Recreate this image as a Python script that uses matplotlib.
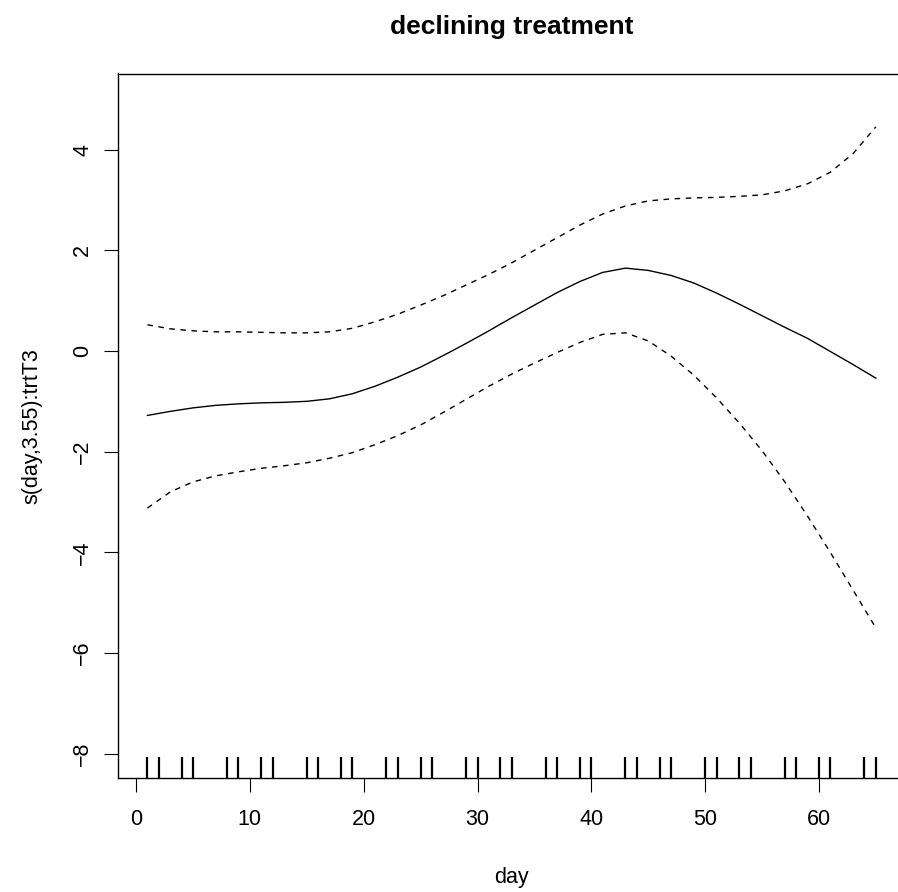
import matplotlib
matplotlib.use("Agg")
import matplotlib.pyplot as plt
import matplotlib.transforms as mtransforms

plt.rcParams['font.family'] = ['Liberation Sans', 'DejaVu Sans']

# Smooth term s(day) for the declining treatment, with +/- 2 SE band
day = [1, 3, 5, 7, 9, 11, 13, 15, 17, 19, 21, 23, 25, 27, 29, 31, 33,
       35, 37, 39, 41, 43, 45, 47, 49, 51, 53, 55, 57, 59, 61, 63, 65]
fit = [-1.28, -1.20, -1.13, -1.08, -1.05, -1.03, -1.02, -1.00, -0.95, -0.85,
       -0.70, -0.52, -0.32, -0.09, 0.15, 0.40, 0.66, 0.91, 1.16, 1.38, 1.56,
       1.645, 1.60, 1.50, 1.35, 1.15, 0.93, 0.70, 0.47, 0.25, -0.01, -0.27, -0.54]
upper = [0.52, 0.44, 0.40, 0.38, 0.38, 0.37, 0.36, 0.36, 0.38, 0.45, 0.58,
         0.73, 0.91, 1.10, 1.31, 1.52, 1.75, 2.00, 2.25, 2.50, 2.72, 2.88,
         2.98, 3.02, 3.04, 3.05, 3.07, 3.10, 3.18, 3.32, 3.55, 3.92, 4.45]
lower = [-3.12, -2.80, -2.60, -2.48, -2.40, -2.33, -2.28, -2.22, -2.13, -2.02,
         -1.86, -1.68, -1.47, -1.22, -0.96, -0.70, -0.46, -0.24, -0.03, 0.17,
         0.33, 0.36, 0.20, -0.10, -0.48, -0.93, -1.43, -1.98, -2.60, -3.28,
         -4.00, -4.75, -5.50]

# Observed days (rug)
rug_days = [1, 2, 4, 5, 8, 9, 11, 12, 15, 16, 18, 19, 22, 23, 25, 26, 29, 30,
            32, 33, 36, 37, 39, 40, 43, 44, 46, 47, 50, 51, 53, 54, 57, 58,
            60, 61, 64, 65]

x_ticks = [0, 10, 20, 30, 40, 50, 60]
y_ticks = [-8, -6, -4, -2, 0, 2, 4]

W, H = 898, 892
fig = plt.figure(figsize=(W / 100, H / 100), dpi=100)
left, right, top, bottom = 118.3, 905.0, 73.5, 778.0
ax = fig.add_axes([left / W, 1 - bottom / H, (right - left) / W, (bottom - top) / H])

ax.plot(day, fit, color='black', lw=1.0)
ax.plot(day, upper, color='black', lw=1.0, dashes=(4, 4))
ax.plot(day, lower, color='black', lw=1.0, dashes=(4, 4))

trans = mtransforms.blended_transform_factory(ax.transData, ax.transAxes)
for d in rug_days:
    ax.plot([d, d], [0, 0.03], color='black', lw=1.6, transform=trans,
            solid_capstyle='butt')

ax.set_xlim(-1.56, 67.56)
ax.set_ylim(-8.48, 5.51)

ax.set_xticks(x_ticks)
ax.set_yticks(y_ticks)
ax.set_yticklabels([str(v).replace('-', '\u2212') for v in y_ticks],
                   rotation=90, va='center')
ax.tick_params(axis='both', direction='out', length=10, width=0.8,
               labelsize=15.5, color='black')
ax.tick_params(axis='x', pad=12)
ax.tick_params(axis='y', pad=8)
for s in ax.spines.values():
    s.set_linewidth(1.0)

fig.text(511.7 / W, 1 - 27 / H, 'declining treatment', ha='center',
         va='center', fontsize=19, fontweight='bold')
fig.text(511.7 / W, 1 - 878 / H, 'day', ha='center', va='center',
         fontsize=15.5)
fig.text(32 / W, 1 - 426 / H, 's(day,3.55):trtT3', ha='center',
         va='center', rotation=90, fontsize=15.5)

fig.savefig('out.png', dpi=100)
